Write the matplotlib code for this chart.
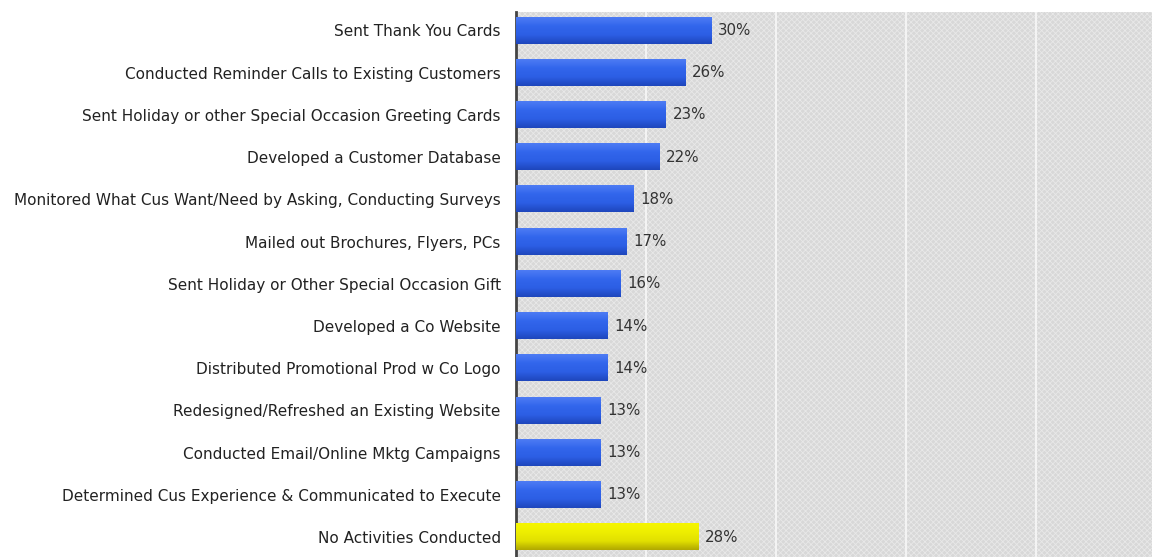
import numpy as np
import matplotlib.pyplot as plt
from matplotlib.patches import Rectangle
from matplotlib.colors import LinearSegmentedColormap

# Data
activities = [
    "Sent Thank You Cards",
    "Conducted Reminder Calls to Existing Customers",
    "Sent Holiday or other Special Occasion Greeting Cards",
    "Developed a Customer Database",
    "Monitored What Cus Want/Need by Asking, Conducting Surveys",
    "Mailed out Brochures, Flyers, PCs",
    "Sent Holiday or Other Special Occasion Gift",
    "Developed a Co Website",
    "Distributed Promotional Prod w Co Logo",
    "Redesigned/Refreshed an Existing Website",
    "Conducted Email/Online Mktg Campaigns",
    "Determined Cus Experience & Communicated to Execute",
    "No Activities Conducted",
]
percents = [30, 26, 23, 22, 18, 17, 16, 14, 14, 13, 13, 13, 28]
value_labels = ["30%", "26%", "23%", "22%", "18%", "17%", "16%", "14%", "14%",
                "13%", "13%", "13%", "28%"]
highlight = [False] * 12 + [True]

plt.rcParams['font.family'] = ['DejaVu Sans']
plt.rcParams['hatch.linewidth'] = 0.6

fig = plt.figure(figsize=(11.52, 5.57), dpi=100)
ax = fig.add_axes([0.448, 0.0, 0.552, 0.978])

# hatched gray background
bg = Rectangle((0, 0), 1, 1, transform=ax.transAxes, facecolor='#d8d8d8',
               edgecolor='#e8e8e8', hatch='xxxxxx', linewidth=0, zorder=0)
ax.add_patch(bg)
ax.set_facecolor('#d8d8d8')

blue_cmap = LinearSegmentedColormap.from_list(
    'b', ['#4e7cf4', '#3266ec', '#2c5ee4', '#1e46bc'])
yellow_cmap = LinearSegmentedColormap.from_list(
    'y', ['#f6f600', '#eeee00', '#e2e000', '#b0a800'])
grad = np.linspace(0, 1, 64).reshape(-1, 1)

h = 0.62
y = np.arange(len(activities))
for i, v in enumerate(percents):
    cmap = yellow_cmap if highlight[i] else blue_cmap
    ax.imshow(grad, extent=[0, v, y[i] + h / 2, y[i] - h / 2], aspect='auto',
              cmap=cmap, zorder=3, interpolation='bicubic')
    ax.text(v + 1.1, y[i], value_labels[i], va='center', ha='left',
            fontsize=10.8, color='#333333', zorder=4)

ax.set_xlim(0, 97.8)
ax.set_ylim(len(activities) - 1 + 0.47, -0.43)
ax.set_xticks([20, 40, 60, 80])
ax.xaxis.grid(True, color='#f6f6f6', linewidth=1.3, zorder=1)
ax.set_axisbelow(True)
ax.tick_params(axis='x', bottom=False, labelbottom=False)
ax.set_yticks(y)
ax.set_yticklabels(activities, fontsize=11, color='#222222')
ax.tick_params(axis='y', length=0, pad=11)
for s in ['top', 'right', 'bottom']:
    ax.spines[s].set_visible(False)
ax.spines['left'].set_color('#444444')
ax.spines['left'].set_linewidth(2)

fig.savefig('out.png', dpi=100, facecolor='white')
